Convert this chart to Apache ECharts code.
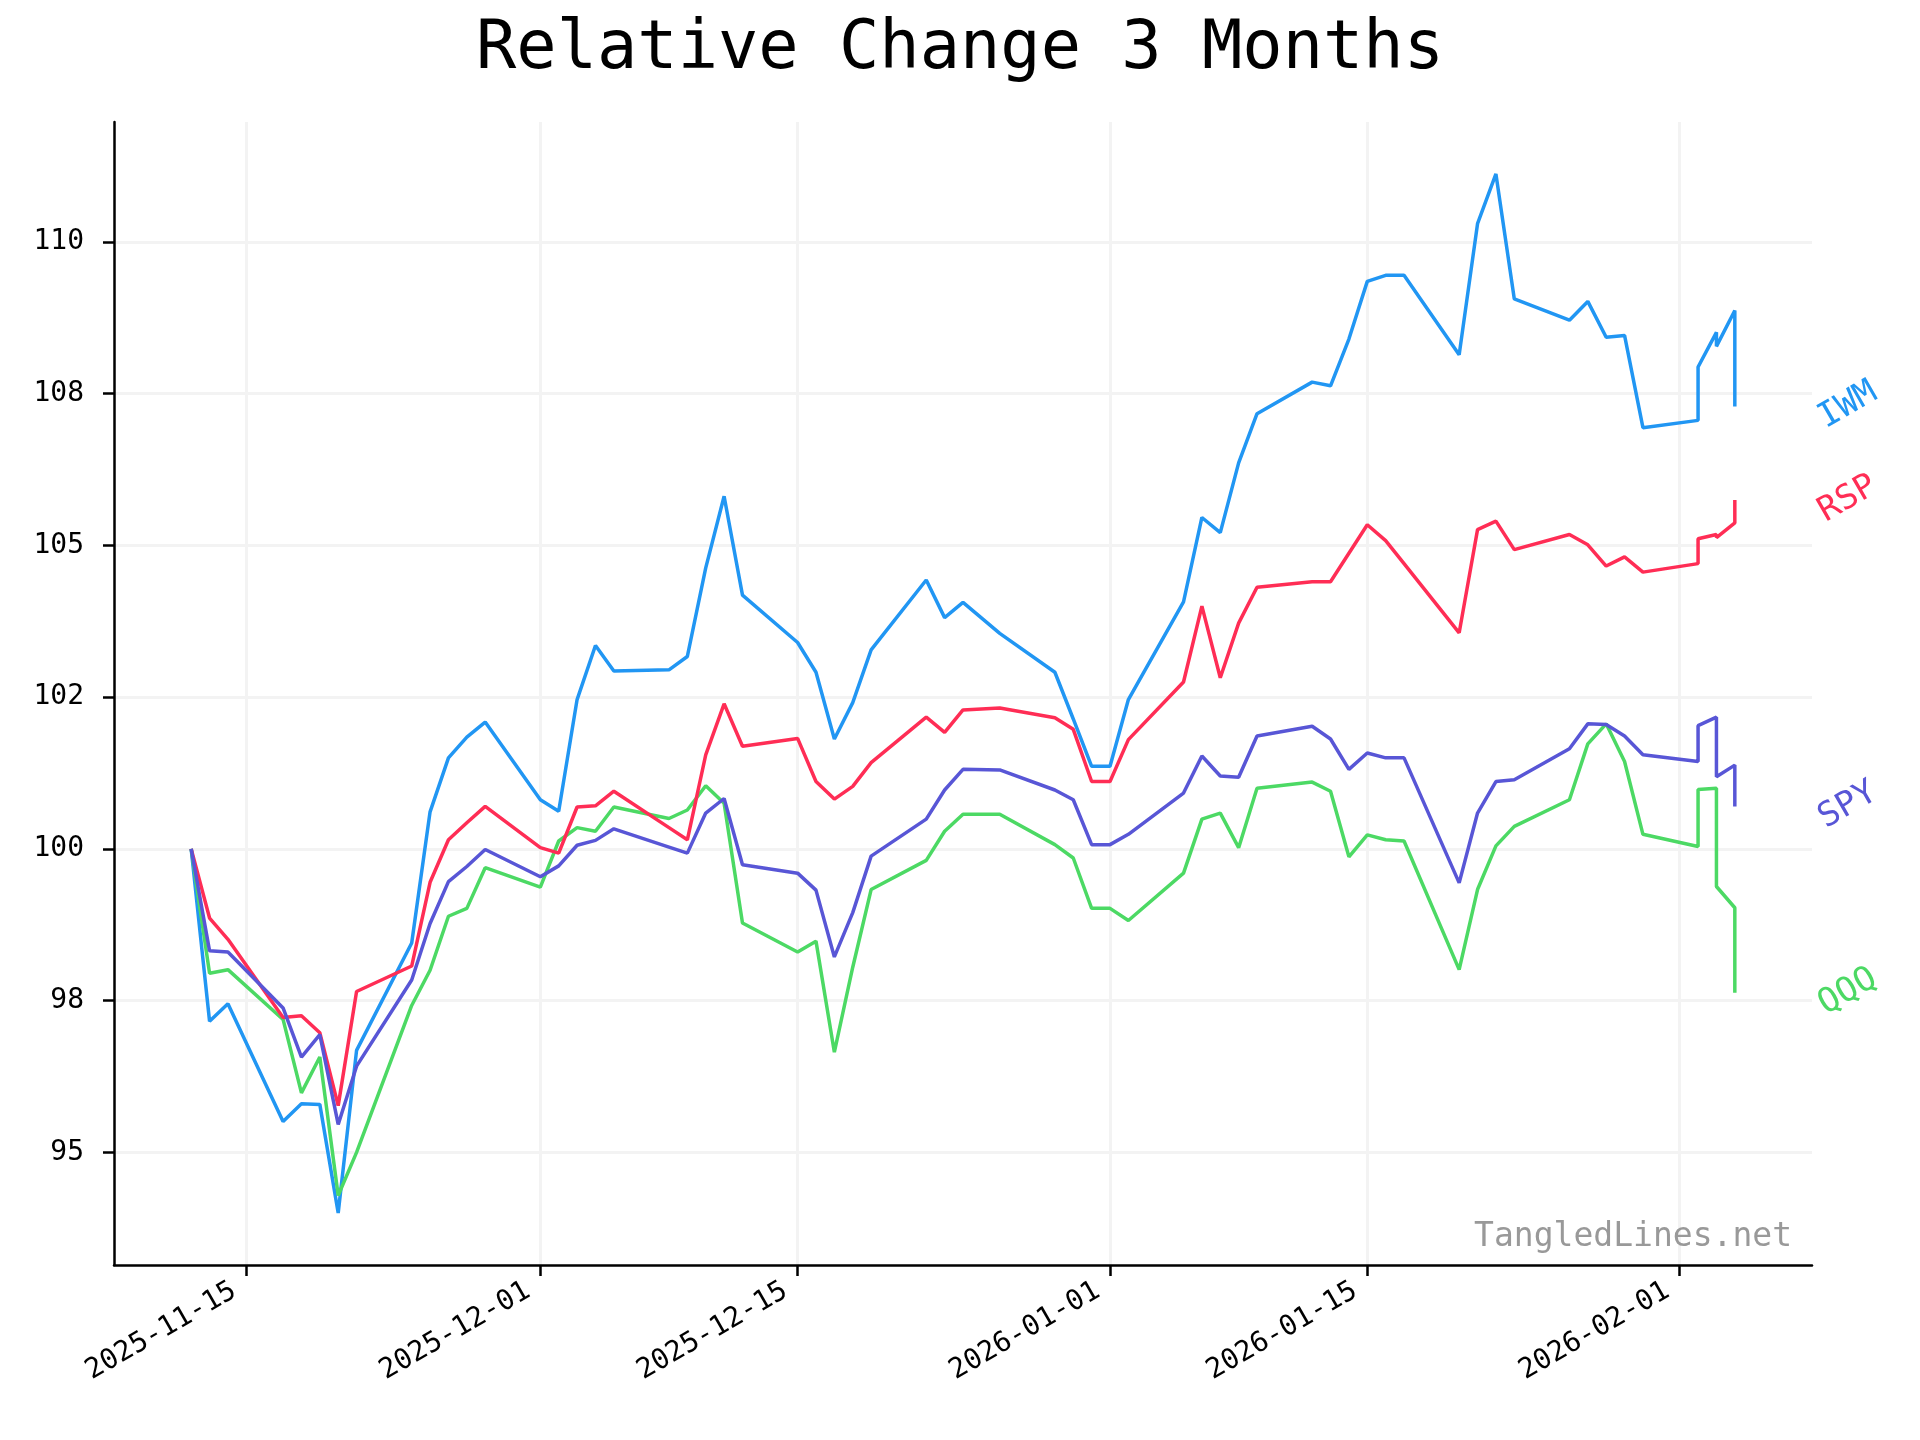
<!DOCTYPE html>
<html>
<head>
<meta charset="utf-8">
<script src="https://cdn.jsdelivr.net/npm/echarts@6/dist/echarts.min.js"></script>
<style>
html,body{margin:0;padding:0;background:#ffffff;}
#chart{width:1920px;height:1440px;}
</style>
</head>
<body>
<div id="chart"></div>
<script>
// ---------------- data ----------------
const dates = [
  '2025-11-12','2025-11-13','2025-11-14','2025-11-17','2025-11-18','2025-11-19','2025-11-20','2025-11-21',
  '2025-11-24','2025-11-25','2025-11-26','2025-11-27','2025-11-28',
  '2025-12-01','2025-12-02','2025-12-03','2025-12-04','2025-12-05','2025-12-08','2025-12-09','2025-12-10',
  '2025-12-11','2025-12-12','2025-12-15','2025-12-16','2025-12-17','2025-12-18','2025-12-19','2025-12-22',
  '2025-12-23','2025-12-24','2025-12-26','2025-12-29','2025-12-30','2025-12-31',
  '2026-01-01','2026-01-02','2026-01-05','2026-01-06','2026-01-07','2026-01-08','2026-01-09','2026-01-12',
  '2026-01-13','2026-01-14','2026-01-15','2026-01-16','2026-01-17','2026-01-20','2026-01-21','2026-01-22',
  '2026-01-23','2026-01-26','2026-01-27','2026-01-28','2026-01-29','2026-01-30',
  '2026-02-02','2026-02-02','2026-02-03','2026-02-03','2026-02-04','2026-02-04'
];
const IWM = [
  100, 97.16, 97.45, 95.51, 95.80, 95.79, 94.00, 96.68,
  98.45, 100.61, 101.50, 101.84, 102.09,
  100.81, 100.62, 102.46, 103.35, 102.93, 102.95, 103.17, 104.63,
  105.81, 104.18, 103.40, 102.91, 101.81, 102.41, 103.28, 104.43,
  103.81, 104.06, 103.55, 102.91, 102.14, 101.36,
  101.36, 102.46, 104.07, 105.46, 105.21, 106.36, 107.17, 107.69,
  107.63, 108.40, 109.35, 109.45, 109.45, 108.14, 110.30, 111.12,
  109.06, 108.71, 109.02, 108.43, 108.46, 106.94,
  107.06, 107.94, 108.51, 108.28, 108.87, 107.29
];
const RSP = [
  100, 98.86, 98.51, 97.22, 97.25, 96.97, 95.77, 97.65,
  98.07, 99.45, 100.15, 100.43, 100.70,
  100.02, 99.93, 100.69, 100.71, 100.95, 100.35, 100.15, 101.55,
  102.39, 101.69, 101.82, 101.11, 100.82, 101.03, 101.42, 102.17,
  101.92, 102.29, 102.32, 102.16, 101.97, 101.11,
  101.11, 101.80, 102.75, 104.00, 102.82, 103.72, 104.31, 104.40,
  104.40, 104.87, 105.34, 105.08, 104.70, 103.56, 105.26, 105.40,
  104.93, 105.18, 105.01, 104.66, 104.81, 104.56,
  104.70, 105.11, 105.18, 105.13, 105.37, 105.75
];
const SPY = [
  100, 98.32, 98.30, 97.38, 96.57, 96.94, 95.46, 96.42,
  97.84, 98.77, 99.46, 99.71, 99.99,
  99.54, 99.72, 100.06, 100.14, 100.33, 100.03, 99.93, 100.59,
  100.83, 99.74, 99.60, 99.32, 98.22, 98.95, 99.88, 100.49,
  100.97, 101.31, 101.30, 100.97, 100.81, 100.07,
  100.07, 100.24, 100.92, 101.53, 101.20, 101.18, 101.86, 102.02,
  101.81, 101.31, 101.58, 101.50, 101.50, 99.44, 100.59, 101.11,
  101.14, 101.65, 102.06, 102.05, 101.86, 101.55,
  101.44, 102.03, 102.17, 101.19, 101.38, 100.70
];
const QQQ = [
  100, 97.95, 98.01, 97.19, 95.98, 96.57, 94.29, 95.00,
  97.42, 98.00, 98.89, 99.02, 99.69,
  99.37, 100.13, 100.35, 100.29, 100.69, 100.50, 100.64, 101.04,
  100.75, 98.78, 98.30, 98.48, 96.65, 98.05, 99.33, 99.81,
  100.29, 100.57, 100.57, 100.07, 99.85, 99.02,
  99.02, 98.82, 99.60, 100.49, 100.59, 100.02, 101.00, 101.10,
  100.95, 99.87, 100.23, 100.15, 100.13, 98.01, 99.33, 100.05,
  100.37, 100.81, 101.73, 102.06, 101.44, 100.24,
  100.04, 100.98, 101.00, 99.38, 99.03, 97.63
];
const seriesNames = ['IWM', 'QQQ', 'RSP', 'SPY'];
const seriesValues = [IWM, QQQ, RSP, SPY];
const seriesColors = ['#2196F3', '#4CD964', '#FF2D55', '#5856D6'];
const xTickDates = ['2025-11-15', '2025-12-01', '2025-12-15', '2026-01-01', '2026-01-15', '2026-02-01'];
const yTicks = [95, 97.5, 100, 102.5, 105, 107.5, 110];
const yTickLabels = ['95', '98', '100', '102', '105', '108', '110'];
const titleText = 'Relative Change 3 Months';
const watermark = 'TangledLines.net';

// ---------------- helpers ----------------
const toTime = s => { const p = s.split('-').map(Number); return Date.UTC(p[0], p[1] - 1, p[2]); };
const pad2 = n => (n < 10 ? '0' : '') + n;
const fmtDate = t => { const d = new Date(Math.round(t)); return d.getUTCFullYear() + '-' + pad2(d.getUTCMonth() + 1) + '-' + pad2(d.getUTCDate()); };
const times = dates.map(toTime);
const xTicks = xTickDates.map(toTime);

// matplotlib-like 5% margins
const tMin = Math.min(...times), tMax = Math.max(...times);
const allVals = [].concat(...seriesValues);
const vMin = Math.min(...allVals), vMax = Math.max(...allVals);
const xMin = tMin - 0.05 * (tMax - tMin), xMax = tMax + 0.05 * (tMax - tMin);
const yMin = vMin - 0.05 * (vMax - vMin), yMax = vMax + 0.05 * (vMax - vMin);

const FONT = 'DejaVu Sans Mono';

const chart = echarts.init(document.getElementById('chart'), null, { renderer: 'canvas' });

const option = {
  animation: false,
  backgroundColor: '#ffffff',
  title: {
    text: titleText,
    left: 'center',
    top: 12,
    textStyle: { fontFamily: FONT, fontSize: 67, fontWeight: 'normal', color: '#000000' }
  },
  grid: { left: 114, right: 108, top: 122, bottom: 175 },
  xAxis: {
    type: 'value',
    min: xMin,
    max: xMax,
    axisLine: { show: true, onZero: false, lineStyle: { color: '#000000', width: 2.5 } },
    axisTick: { show: true, customValues: xTicks, length: 11, lineStyle: { color: '#000000', width: 2.5 } },
    axisLabel: {
      customValues: xTicks,
      formatter: v => fmtDate(v),
      rotate: 30,
      margin: 17,
      padding: [0, 14, 0, 0],
      fontFamily: FONT,
      fontSize: 28,
      color: '#000000',
      hideOverlap: false
    },
    splitLine: { show: true, lineStyle: { color: '#f3f3f3', width: 3 } }
  },
  yAxis: {
    type: 'value',
    min: yMin,
    max: yMax,
    axisLine: { show: true, lineStyle: { color: '#000000', width: 2.5 } },
    axisTick: { show: true, customValues: yTicks, length: 11, lineStyle: { color: '#000000', width: 2.5 } },
    axisLabel: {
      customValues: yTicks,
      formatter: v => { const i = yTicks.findIndex(t => Math.abs(t - v) < 1e-6); return i >= 0 ? yTickLabels[i] : ''; },
      margin: 30,
      fontFamily: FONT,
      fontSize: 28,
      color: '#000000'
    },
    splitLine: { show: true, lineStyle: { color: '#f3f3f3', width: 3 } }
  },
  series: seriesNames.map((name, i) => ({
    name: name,
    type: 'line',
    showSymbol: false,
    symbol: 'none',
    data: times.map((t, j) => [t, seriesValues[i][j]]),
    lineStyle: { color: seriesColors[i], width: 3.5 },
    itemStyle: { color: seriesColors[i] },
    z: 2 + i
  }))
};
chart.setOption(option);

// end-of-line labels placed through the chart's own scales
const xEndPx = chart.convertToPixel({ xAxisIndex: 0, yAxisIndex: 0 }, [xMax, yMin])[0];
const labelGraphics = seriesNames.map((name, i) => {
  const vals = seriesValues[i];
  const p = chart.convertToPixel({ xAxisIndex: 0, yAxisIndex: 0 }, [tMax, vals[vals.length - 1]]);
  return {
    type: 'text',
    x: xEndPx + 36,
    y: p[1] - 1,
    rotation: Math.PI / 6,
    style: {
      text: name,
      fill: seriesColors[i],
      fontFamily: FONT,
      fontSize: 34,
      align: 'center',
      verticalAlign: 'middle'
    },
    z: 100
  };
});
labelGraphics.push({
  type: 'text',
  x: xEndPx - 20,
  y: 1237,
  style: {
    text: watermark,
    fill: '#999999',
    fontFamily: FONT,
    fontSize: 33,
    align: 'right',
    verticalAlign: 'middle'
  },
  z: 100
});
chart.setOption({ graphic: labelGraphics });
</script>
</body>
</html>
